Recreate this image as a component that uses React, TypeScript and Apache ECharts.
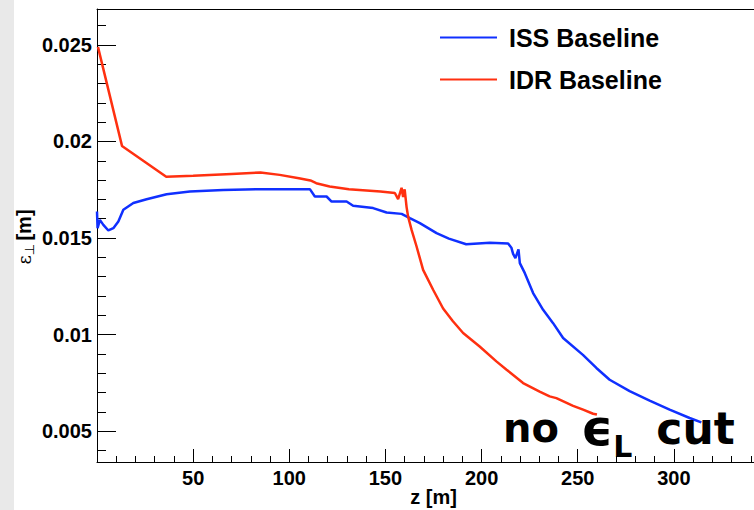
import React, { useEffect, useRef } from "react";
import * as echarts from "echarts";

// ISS Baseline (blue)
const issZ = [0, 0.3, 1.5, 3.3, 5.9, 8.5, 11.1, 13.7, 18.9, 25.8, 36.2, 48.3, 65.6, 83, 110.7, 113.3, 119.4, 122, 129.8, 133.2, 143.6, 150.6, 158.4, 162.7, 167.9, 176.6, 183, 192, 204.3, 213.8, 215.5, 216.4, 217.6, 219.2, 219.9, 222.5, 226.8, 232, 237.2, 242.4, 252.7, 259.7, 266.6, 277, 287.4, 297.8, 308.2, 314.3];
const issEps = [0.01637, 0.01551, 0.01594, 0.01568, 0.01539, 0.01551, 0.01585, 0.01646, 0.01681, 0.01701, 0.01727, 0.01741, 0.01749, 0.01753, 0.01753, 0.01715, 0.01715, 0.01689, 0.01689, 0.01667, 0.01655, 0.01632, 0.01625, 0.01603, 0.01577, 0.01525, 0.01497, 0.01468, 0.01476, 0.01472, 0.01450, 0.01418, 0.01396, 0.01441, 0.0137, 0.01318, 0.01215, 0.01128, 0.01059, 0.00982, 0.00895, 0.00827, 0.00766, 0.00707, 0.00658, 0.00611, 0.00568, 0.00545];

// IDR Baseline (red)
const idrZ = [0.5, 13, 36, 50, 70, 85, 95, 105, 111, 114, 121, 131, 147.4, 154.9, 156.6, 158.4, 159.2, 160, 161, 161.8, 163.6, 166.2, 169.6, 174.8, 180, 185, 190.4, 199, 207.7, 213, 221.6, 230.2, 235.4, 238.9, 247.6, 252.8, 258, 260];
const idrEps = [0.0249, 0.01977, 0.01817, 0.01822, 0.01832, 0.01839, 0.01827, 0.0181, 0.01798, 0.01784, 0.01767, 0.01753, 0.01741, 0.01733, 0.01701, 0.01760, 0.01712, 0.01752, 0.01660, 0.01611, 0.01542, 0.01456, 0.01335, 0.01232, 0.01135, 0.01070, 0.01008, 0.00938, 0.00861, 0.00818, 0.00749, 0.00705, 0.0068, 0.00671, 0.00631, 0.00611, 0.0059, 0.00586];

const seriesNames = ["ISS Baseline", "IDR Baseline"];
const seriesColors = ["#1030ff", "#ff3010"];

const xMin = 0;
const xMax = 350;
const xInterval = 50;
const yMin = 0.0034;
const yMax = 0.02686;

const FONT = "Liberation Sans";

export default function App() {
  const ref = useRef<HTMLDivElement>(null);

  useEffect(() => {
    if (!ref.current) return;
    const chart = echarts.init(ref.current, undefined, { renderer: "svg" });
    const issData = issZ.map((z, i) => [z, issEps[i]]);
    const idrData = idrZ.map((z, i) => [z, idrEps[i]]);

    const option: any = {
      animation: false,
      backgroundColor: "#ffffff",
      grid: { left: 97, top: 9, right: -16, bottom: 48, containLabel: false, outerBoundsMode: "none" },
      legend: {
        orient: "vertical",
        left: 440,
        top: 25,
        icon: "rect",
        itemWidth: 57,
        itemHeight: 2,
        itemGap: 17,
        padding: 0,
        data: seriesNames,
        textStyle: {
          fontFamily: FONT,
          fontWeight: "bold",
          fontSize: 25,
          color: "#000",
          padding: [0, 0, 0, 7],
        },
      },
      xAxis: [
        {
          type: "value",
          min: xMin,
          max: xMax,
          interval: xInterval,
          name: "z [m]",
          nameLocation: "middle",
          nameGap: 25,
          nameMoveOverlap: false,
          nameTextStyle: { fontFamily: FONT, fontWeight: "bold", fontSize: 20, color: "#000" },
          axisLine: { show: true, lineStyle: { color: "#000", width: 1 } },
          axisTick: { show: true, inside: true, length: 13, lineStyle: { color: "#000" } },
          minorTick: { show: true, splitNumber: 5, length: 6, lineStyle: { color: "#000" } },
          splitLine: { show: false },
          minorSplitLine: { show: false },
          axisLabel: {
            showMinLabel: false,
            showMaxLabel: false,
            margin: 6,
            fontFamily: FONT,
            fontWeight: "bold",
            fontSize: 20,
            color: "#000",
          },
        },
        {
          type: "value",
          position: "top",
          min: xMin,
          max: xMax,
          interval: xInterval,
          axisLine: { show: true, lineStyle: { color: "#000", width: 1 } },
          axisTick: { show: false },
          axisLabel: { show: false },
          splitLine: { show: false },
        },
      ],
      yAxis: {
        type: "value",
        min: yMin,
        max: yMax,
        splitNumber: 5,
        axisLine: { show: true, lineStyle: { color: "#000", width: 1 } },
        axisTick: { show: true, inside: true, length: 19, lineStyle: { color: "#000" } },
        minorTick: { show: true, splitNumber: 5, length: 9, lineStyle: { color: "#000" } },
        splitLine: { show: false },
        minorSplitLine: { show: false },
        axisLabel: {
          showMinLabel: false,
          showMaxLabel: false,
          margin: 5,
          fontFamily: FONT,
          fontWeight: "bold",
          fontSize: 20,
          color: "#000",
        },
      },
      graphic: [
        {
          type: "rect",
          left: 0,
          top: 0,
          z: -10,
          shape: { width: 14, height: 510 },
          style: { fill: "#e9e9e9" },
          silent: true,
        },
        {
          type: "text",
          x: 24,
          y: 237,
          rotation: Math.PI / 2,
          silent: true,
          style: {
            text: "{e|ε}{s|⊥} {t|[m]}",
            align: "center",
            verticalAlign: "middle",
            fill: "#000",
            rich: {
              e: { fontFamily: "DejaVu Serif", fontSize: 18, lineHeight: 24, fill: "#000" },
              s: { fontFamily: "DejaVu Sans", fontSize: 13, lineHeight: 12, verticalAlign: "bottom", fill: "#000" },
              t: { fontFamily: FONT, fontWeight: "bold", fontSize: 20, lineHeight: 24, fill: "#000" },
            },
          },
        },
        {
          type: "text",
          x: 503,
          y: 428,
          silent: true,
          z: 100,
          style: {
            text: "{n|no}{e|ϵ}{s|L}{c|cut}",
            align: "left",
            verticalAlign: "middle",
            fill: "#000",
            rich: {
              n: { fontFamily: "DejaVu Sans", fontWeight: "bold", fontSize: 40, lineHeight: 66, fill: "#000" },
              e: { fontFamily: "DejaVu Sans", fontWeight: "bold", fontSize: 50, lineHeight: 66, padding: [0, 0, 0, 22], fill: "#000" },
              s: { fontFamily: "DejaVu Sans", fontWeight: "bold", fontSize: 30, lineHeight: 24, verticalAlign: "bottom", fill: "#000" },
              c: { fontFamily: "DejaVu Sans", fontWeight: "bold", fontSize: 44, lineHeight: 66, padding: [0, 0, 0, 24], fill: "#000" },
            },
          },
        },
      ],
      series: [
        {
          name: seriesNames[0],
          type: "line",
          data: issData,
          showSymbol: false,
          symbol: "none",
          color: seriesColors[0],
          lineStyle: { color: seriesColors[0], width: 2.5 },
          z: 3,
        },
        {
          name: seriesNames[1],
          type: "line",
          data: idrData,
          showSymbol: false,
          symbol: "none",
          color: seriesColors[1],
          lineStyle: { color: seriesColors[1], width: 2.5 },
          z: 4,
        },
      ],
    };
    chart.setOption(option);
    return () => chart.dispose();
  }, []);

  return (
    <div
      ref={ref}
      style={{ position: "fixed", left: 0, top: 0, width: 754, height: 510, background: "#fff" }}
    />
  );
}
